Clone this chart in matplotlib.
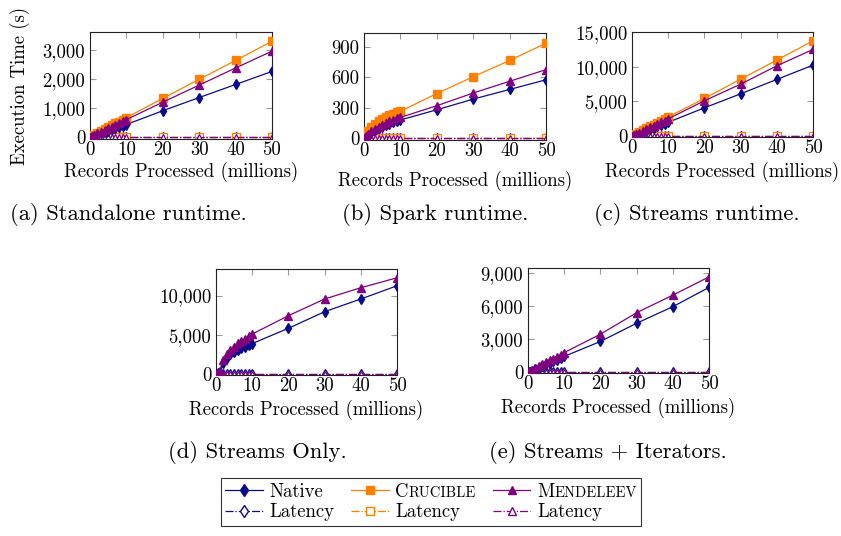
import numpy as np
import matplotlib.pyplot as plt
from matplotlib.ticker import FuncFormatter, FixedLocator
from matplotlib.offsetbox import HPacker, TextArea

plt.rcParams['font.family'] = 'cmr10'
plt.rcParams['mathtext.fontset'] = 'cm'
plt.rcParams['axes.unicode_minus'] = False
plt.rcParams['axes.formatter.use_mathtext'] = True

# records processed (millions)
x = [0, 0.5, 1, 2, 3, 4, 5, 6, 7, 8, 9, 10, 20, 30, 40, 50]

# (a) standalone runtime
a_native = [0, 22, 45, 88, 130, 175, 215, 260, 300, 345, 390, 430, 905, 1360, 1810, 2260]
a_crucible = [0, 35, 70, 135, 200, 265, 330, 400, 465, 530, 600, 670, 1330, 1990, 2640, 3300]
a_mendeleev = [0, 30, 60, 120, 180, 240, 300, 360, 420, 480, 540, 600, 1200, 1790, 2380, 2960]

# (b) spark runtime
b_native = [0, 20, 35, 60, 80, 100, 115, 130, 145, 160, 170, 180, 280, 385, 480, 575]
b_crucible = [0, 40, 70, 110, 140, 165, 185, 205, 225, 240, 255, 265, 440, 605, 765, 935]
b_mendeleev = [0, 25, 45, 70, 95, 115, 135, 150, 165, 180, 195, 205, 320, 445, 560, 675]

# (c) streams runtime
c_native = [0, 100, 200, 400, 600, 800, 1000, 1200, 1400, 1600, 1800, 2000, 4080, 6100, 8170, 10230]
c_crucible = [0, 140, 280, 560, 840, 1120, 1400, 1670, 1950, 2230, 2500, 2780, 5430, 8210, 10950, 13730]
c_mendeleev = [0, 125, 250, 500, 750, 1000, 1250, 1500, 1750, 2000, 2250, 2500, 5100, 7490, 10130, 12490]

# (d) streams only
d_native = [0, 100, 250, 1450, 2100, 2500, 2800, 3100, 3300, 3500, 3700, 3880, 5830, 7950, 9570, 11260]
d_mendeleev = [0, 120, 300, 1800, 2600, 3100, 3500, 3900, 4200, 4500, 4800, 5100, 7440, 9570, 11010, 12280]

# (e) streams + iterators
e_native = [0, 70, 140, 290, 430, 580, 720, 860, 1010, 1150, 1300, 1450, 2810, 4470, 5980, 7730]
e_mendeleev = [0, 90, 180, 360, 540, 720, 900, 1080, 1260, 1440, 1620, 1800, 3470, 5430, 7030, 8690]

# latency (s)
lat = [0.1, 0.1, 0.1, 0.1, 0.1, 0.1, 0.1, 0.1, 0.1, 0.1, 0.1, 0.1, 0.1, 0.1, 0.1, 0.1]

NAVY = '#0b0b8a'
ORANGE = '#ff8000'
PURPLE = '#800080'
FS = 13.5

W, H = 841, 536
fig = plt.figure(figsize=(W / 100, H / 100), dpi=100)


def add_ax(l, r, t, b):
    return fig.add_axes([l / W, 1 - b / H, (r - l) / W, (b - t) / H])


def style(ax, ylim, yticks, lab_y):
    ax.set_xlim(0, 50)
    ax.set_ylim(*ylim)
    ax.xaxis.set_major_locator(FixedLocator([0, 10, 20, 30, 40, 50]))
    ax.yaxis.set_major_locator(FixedLocator(yticks))
    ax.yaxis.set_major_formatter(FuncFormatter(lambda v, p: f'{v:,.0f}'))
    ax.xaxis.set_major_formatter(FuncFormatter(lambda v, p: f'{v:.0f}'))
    ax.tick_params(direction='in', top=True, right=True, length=4, width=0.8,
                   color='#999999', labelsize=FS)
    ax.tick_params(axis='x', pad=1.5)
    ax.tick_params(axis='y', pad=3.5)
    for s in ax.spines.values():
        s.set_linewidth(0.8)
        s.set_color('#222222')
    ax.set_xlabel('Records Processed (millions)', fontsize=FS)
    ax.xaxis.label.set_verticalalignment('center')
    ax.xaxis.set_label_coords(0.5, lab_y)


def main_line(ax, y, c, m, ms):
    ax.plot(x, y, '-', color=c, marker=m, ms=ms, lw=0.9, mec=c, mfc=c, zorder=3)


def lat_line(ax, c, m, ms):
    ax.plot(x, lat, '-.', color=c, marker=m, ms=ms, lw=0.9, mec=c, mfc='white',
            mew=0.9, zorder=2)


panels = [
    (add_ax(90, 272, 32, 139), a_native, a_crucible, a_mendeleev, (-70, 3620), [0, 1000, 2000, 3000], -0.31),
    (add_ax(364, 546, 33, 140), b_native, b_crucible, b_mendeleev, (-17, 1035), [0, 300, 600, 900], -0.38),
    (add_ax(632, 813, 32, 137), c_native, c_crucible, c_mendeleev, (-120, 15000), [0, 5000, 10000, 15000], -0.33),
    (add_ax(216, 397, 269, 375), d_native, None, d_mendeleev, (-130, 13400), [0, 5000, 10000], -0.33),
    (add_ax(528, 709, 268, 373), e_native, None, e_mendeleev, (-60, 9500), [0, 3000, 6000, 9000], -0.33),
]

for ax, yn, yc, ym, ylim, yt, ly in panels:
    lat_line(ax, NAVY, 'd', 5)
    if yc is not None:
        lat_line(ax, ORANGE, 's', 6)
    lat_line(ax, PURPLE, '^', 5)
    main_line(ax, yn, NAVY, 'd', 5.5)
    if yc is not None:
        main_line(ax, yc, ORANGE, 's', 6)
    main_line(ax, ym, PURPLE, '^', 6)
    style(ax, ylim, yt, ly)

ax0 = panels[0][0]
ax0.set_ylabel('Execution Time (s)', fontsize=FS)
ax0.yaxis.set_label_coords(-0.33, 0.5)

captions = [
    (128, 214, '(a) Standalone runtime.'),
    (435, 214, '(b) Spark runtime.'),
    (697, 214, '(c) Streams runtime.'),
    (257, 452, '(d) Streams Only.'),
    (608, 452, '(e) Streams + Iterators.'),
]
for cx, cy, txt in captions:
    fig.text(cx / W, 1 - cy / H, txt, fontsize=16.3, ha='center', va='center')

# legend
h = []
labels = []
for c, m, name in [(NAVY, 'd', 'Native'), (ORANGE, 's', 'Crucible'), (PURPLE, '^', 'Mendeleev')]:
    h.append(plt.Line2D([], [], color=c, marker=m, ms=6, lw=0.9, mfc=c, mec=c))
    labels.append(name)
    h.append(plt.Line2D([], [], color=c, marker=m, ms=6, lw=0.9, ls='-.', mfc='white', mec=c))
    labels.append('Latency')

leg = fig.legend(h, labels, ncol=3, loc='upper center', bbox_to_anchor=(431 / W, 1 - 478 / H),
                 fontsize=FS, frameon=True, fancybox=False, edgecolor='black',
                 handlelength=2.0, columnspacing=0.9, handletextpad=0.35, borderpad=0.25,
                 labelspacing=0.15, borderaxespad=0)
leg.get_frame().set_linewidth(0.8)

# small caps for the system names
for col in leg._legend_handle_box.get_children():
    for item in col.get_children():
        kids = item.get_children()
        txt = kids[1].get_text()
        if txt in ('Crucible', 'Mendeleev'):
            sc = HPacker(children=[TextArea(txt[0], textprops=dict(fontsize=FS)),
                                   TextArea(txt[1:].upper(), textprops=dict(fontsize=FS * 0.78))],
                         align='baseline', pad=0, sep=0)
            sc.set_figure(fig)
            kids[1] = sc

fig.savefig('out.png', dpi=100)
